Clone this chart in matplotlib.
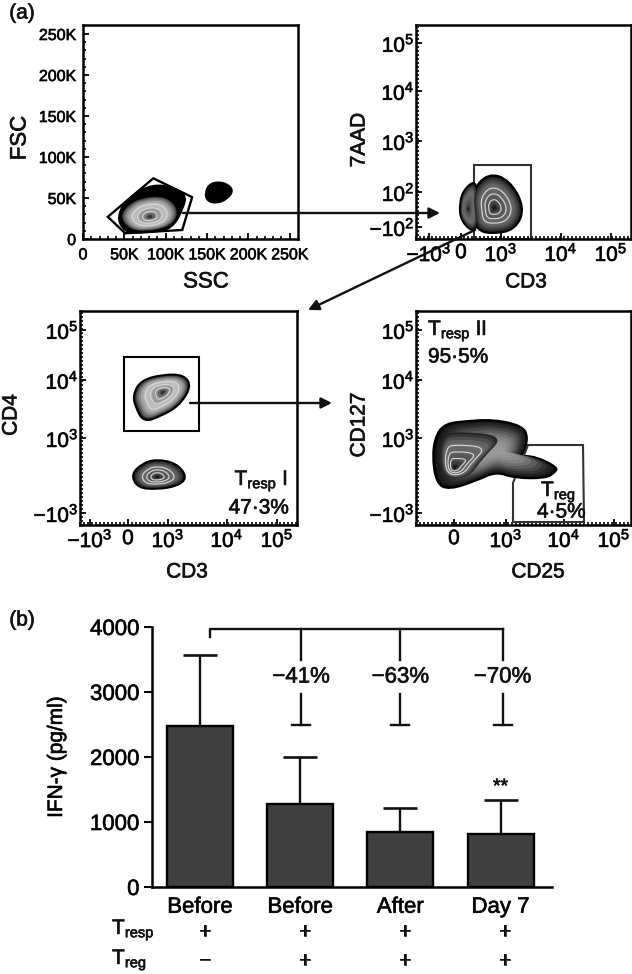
import numpy as np
from matplotlib import pyplot as plt
from matplotlib.patches import PathPatch, Polygon
from matplotlib.path import Path
from matplotlib.patheffects import withStroke
from matplotlib.text import Text
from matplotlib.ticker import FixedLocator

plt.rcParams['font.family'] = ['Liberation Sans', 'DejaVu Sans']
plt.rcParams['mathtext.fontset'] = 'custom'
plt.rcParams['mathtext.rm'] = 'Liberation Sans'
plt.rcParams['mathtext.default'] = 'regular'

W, H = 632, 974

# bar chart values
bar_values = [2480, 1280, 840, 810]
bar_errors = [1090, 720, 370, 530]
bar_labels = ['Before', 'Before', 'After', 'Day 7']
tresp_signs = ['+', '+', '+', '+']
treg_signs = ['\u2212', '+', '+', '+']
reductions = ['\u221241%', '\u221263%', '\u221270%']
bar_yticks = [0, 1000, 2000, 3000, 4000]

# FSC/SSC panel, in thousands
ssc_ticks = [0, 50, 100, 150, 200, 250]
ssc_labels = ['0', '50K', '100K', '150K', '200K', '250K']
fsc_labels = ['0', '50K', '100K', '150K', '200K', '250K']
gate_scatter_x = [30, 85, 132, 120, 51]
gate_scatter_y = [27, 74, 51, 11, 7]
lymph_outer_x = [44.7, 52, 72.9, 97, 120.4, 119, 109, 93, 60.8, 48.7]
lymph_outer_y = [27, 43.5, 59.8, 63.8, 53.7, 37.4, 19, 11, 9, 15]
lymph_inner_x = [46.7, 54.8, 72.9, 97, 111, 113, 101, 77, 57]
lymph_inner_y = [27, 41, 50, 51, 41, 27, 15, 10, 13]
lymph_centre = (81, 27)
spot_x = [149, 155, 169.5, 179.6, 173.5, 161.5, 151.4]
spot_y = [56.5, 66.7, 67.9, 59.8, 49.6, 44.7, 47.6]

# the biexponential panels are kept in display channels
aad_xticks = [13, 45, 85, 145, 195]
aad_xlabels = ['\u221210$^{3}$', '0', '10$^{3}$', '10$^{4}$', '10$^{5}$']
aad_yticks = [12, 47, 98, 148, 196]
aad_ylabels = ['\u221210$^{2}$', '10$^{2}$', '10$^{3}$', '10$^{4}$', '10$^{5}$']
aad_gate_x = [57.7, 115, 115, 57.7]
aad_gate_y = [74, 74, 0, 0]
live_x = [59, 73, 92, 105, 97, 77, 63, 59]
live_y = [47, 62, 56, 32, 12, 7, 11, 26]
live_centre = (78, 31)
dead_x = [60, 50, 45, 47, 60]
dead_y = [52, 49, 36, 19, 12]
dead_centre = (52, 30)

cd4_xticks = [10, 48, 88, 147, 197]
cd4_xlabels = ['\u221210$^{3}$', '0', '10$^{3}$', '10$^{4}$', '10$^{5}$']
cd4_yticks = [12, 87, 145, 195]
cd4_ylabels = ['\u221210$^{3}$', '10$^{3}$', '10$^{4}$', '10$^{5}$']
cd4_gate_x = [44, 119, 119, 44]
cd4_gate_y = [168, 168, 94, 94]
cd4pos_x = [55, 63, 83, 102, 108, 97, 80, 65, 57]
cd4pos_y = [130, 143, 149, 148, 137, 120, 110, 106, 118]
cd4pos_centre = (83, 133)
cd4neg_x = [54, 63, 77, 95, 104, 95, 77, 60]
cd4neg_y = [50, 60, 64, 60, 48, 40, 37, 39]
cd4neg_centre = (77, 48)

cd25_xticks = [38, 90, 148, 198]
cd25_xlabels = ['0', '10$^{3}$', '10$^{4}$', '10$^{5}$']
cd25_yticks = [12, 87, 145, 195]
cd25_ylabels = ['\u221210$^{3}$', '10$^{3}$', '10$^{4}$', '10$^{5}$']
cd25_gate_x = [112, 167, 168, 97, 97]
cd25_gate_y = [80, 80, 3, 3, 42]
cd25_outer_x = [18, 22, 32, 50, 77, 103, 110, 107, 105, 120, 138, 137, 127, 100, 80, 60, 35, 22]
cd25_outer_y = [70, 90, 100, 103, 104, 98, 87, 73, 69, 67, 58, 53, 48, 48, 52, 45, 38, 45]
cd25_body_centre = (82, 75)
cd25_core_x = [25, 28, 43, 82, 67, 53, 33]
cd25_core_y = [63, 87, 93, 88, 67, 50, 48]
cd25_centre = (38, 57)

# scale towards centre and gray level of each shading step
shade_scales = [0.97, 0.92, 0.85, 0.77, 0.68, 0.58, 0.48, 0.38, 0.28, 0.18, 0.09]
light_grays = [0.25, 0.4, 0.55, 0.66, 0.72, 0.74, 0.68, 0.6, 0.52, 0.4, 0.2]
dark_grays = [0.14, 0.22, 0.3, 0.38, 0.42, 0.4, 0.38, 0.34, 0.3, 0.24, 0.1]
body_grays = [0.1, 0.14, 0.2, 0.28, 0.36, 0.44, 0.5, 0.55, 0.58, 0.6, 0.6]
ring_scales = [0.62, 0.44, 0.26]


def px_axes(fig, left, top, width, height):
    return fig.add_axes([left / W, 1 - (top + height) / H, width / W, height / H])


def smooth_path(x, y):
    # control points pushed out so the curve runs through the read points
    q = np.column_stack([x, y])
    pts = q + (q - (np.roll(q, 1, axis=0) + np.roll(q, -1, axis=0)) / 2) / 3
    mids = (pts + np.roll(pts, -1, axis=0)) / 2
    verts = [mids[-1]]
    codes = [Path.MOVETO]
    for p, m in zip(pts, mids):
        verts += [p, m]
        codes += [Path.CURVE3, Path.CURVE3]
    return Path(np.array(verts), codes)


def density_blob(ax, x, y, centre, grays, lw=2.2, rings=True, outline=True):
    x, y = np.array(x, float), np.array(y, float)
    if outline:
        ax.add_patch(PathPatch(smooth_path(x, y), fc='0.08', ec='black', lw=lw, zorder=3))
    cx, cy = centre
    for s, g in zip(shade_scales, grays):
        path = smooth_path(cx + (x - cx) * s, cy + (y - cy) * s)
        ax.add_patch(PathPatch(path, fc=str(g), ec='none', zorder=4))
    if rings:
        for s in ring_scales:
            path = smooth_path(cx + (x - cx) * s, cy + (y - cy) * s)
            ax.add_patch(PathPatch(path, fc='none', ec='0.85', lw=0.8, zorder=5))


def flow_axes(fig, box, xlim, ylim, xticks, xlabels, yticks, ylabels, minor, padx, pady, size):
    ax = px_axes(fig, *box)
    ax.set_xlim(*xlim)
    ax.set_ylim(*ylim)
    ax.set_xticks(xticks, xlabels, fontsize=size)
    ax.set_yticks(yticks, ylabels, fontsize=size)
    ax.xaxis.set_minor_locator(FixedLocator(np.arange(xlim[0], xlim[1], minor)))
    ax.yaxis.set_minor_locator(FixedLocator(np.arange(ylim[0], ylim[1], minor)))
    ax.tick_params(which='major', direction='in', length=4, width=1.3, pad=padx, axis='x')
    ax.tick_params(which='major', direction='in', length=4, width=1.3, pad=pady, axis='y')
    ax.tick_params(which='minor', direction='in', length=2, width=1.2)
    for s in ax.spines.values():
        s.set_linewidth(1.8)
    return ax


def gate(ax, x, y, lw=1.5, color='0.2'):
    ax.add_patch(Polygon(np.column_stack([x, y]), closed=True, fill=False, ec=color, lw=lw, zorder=2))


def fig_text(fig, x, y, s, **kw):
    kw.setdefault('ha', 'center')
    kw.setdefault('va', 'center')
    kw.setdefault('fontsize', 15)
    fig.text(x / W, 1 - y / H, s, color='#111111', **kw)


fig = plt.figure(figsize=(W / 100, H / 100), dpi=100)

# panel a, top left
ax1 = flow_axes(fig, (83, 25, 215, 214), (0, 260), (0, 261), ssc_ticks, ssc_labels,
                ssc_ticks, fsc_labels, 10, 6, 5, 11.5)
gate(ax1, gate_scatter_x, gate_scatter_y, lw=1.7, color='black')
ax1.add_patch(PathPatch(smooth_path(lymph_outer_x, lymph_outer_y), fc='black', ec='black', lw=2.2, zorder=3))
density_blob(ax1, lymph_inner_x, lymph_inner_y, lymph_centre, light_grays, outline=False)
ax1.add_patch(PathPatch(smooth_path(spot_x, spot_y), fc='black', ec='black', lw=1.5, zorder=3))

# panel a, top right
ax2 = flow_axes(fig, (416, 25, 215, 214), (0, 215), (0, 214), aad_xticks, aad_xlabels,
                aad_yticks, aad_ylabels, 4, 3, 1, 15)
gate(ax2, aad_gate_x, aad_gate_y)
density_blob(ax2, dead_x, dead_y, dead_centre, dark_grays, rings=False)
density_blob(ax2, live_x, live_y, live_centre, dark_grays)

# panel a, bottom left
ax3 = flow_axes(fig, (80, 311, 217, 214), (0, 217), (0, 214), cd4_xticks, cd4_xlabels,
                cd4_yticks, cd4_ylabels, 4, 3, 1, 15)
gate(ax3, cd4_gate_x, cd4_gate_y, color='black')
density_blob(ax3, cd4pos_x, cd4pos_y, cd4pos_centre, light_grays)
density_blob(ax3, cd4neg_x, cd4neg_y, cd4neg_centre, dark_grays)

# panel a, bottom right
ax4 = flow_axes(fig, (416, 311, 215, 214), (0, 215), (0, 214), cd25_xticks, cd25_xlabels,
                cd25_yticks, cd25_ylabels, 4, 3, 1, 15)
gate(ax4, cd25_gate_x, cd25_gate_y)
density_blob(ax4, cd25_outer_x, cd25_outer_y, cd25_body_centre, body_grays, rings=False)
density_blob(ax4, cd25_core_x, cd25_core_y, cd25_centre, dark_grays, outline=False)

fig_text(fig, 22, 13, '(a)', fontsize=15)
fig_text(fig, 20, 138, 'FSC', fontsize=16, rotation=90)
fig_text(fig, 206, 282, 'SSC', fontsize=16)
fig_text(fig, 359, 140, '7AAD', fontsize=15, rotation=90)
fig_text(fig, 526, 282, 'CD3', fontsize=15)
fig_text(fig, 11, 415, 'CD4', fontsize=15, rotation=90)
fig_text(fig, 187, 572, 'CD3', fontsize=15)
fig_text(fig, 359, 425, 'CD127', fontsize=15, rotation=90)
fig_text(fig, 538, 572, 'CD25', fontsize=15)
fig_text(fig, 288, 481, 'T$_{resp}$ I', ha='right')
fig_text(fig, 289, 508, '47\u00b73%', ha='right')
fig_text(fig, 428, 331, 'T$_{resp}$ II', ha='left')
fig_text(fig, 428, 357, '95\u00b75%', ha='left')
fig_text(fig, 541, 492, 'T$_{reg}$', ha='left')
fig_text(fig, 537, 512, '4\u00b75%', ha='left')
fig_text(fig, 22, 620, '(b)', fontsize=15)

# panel b
ax = px_axes(fig, 152, 627, 400, 260)
xpos = np.arange(len(bar_values))
ax.bar(xpos, bar_values, width=0.66, color='#404040', edgecolor='black', linewidth=1.7, zorder=2)
ax.errorbar(xpos, bar_values, yerr=[np.zeros(4), bar_errors], fmt='none', ecolor='#111111',
            elinewidth=1.7, capsize=12, capthick=1.9, zorder=1)
ax.set_xlim(-0.479, 3.513)
ax.set_ylim(0, 4000)
ax.set_yticks(bar_yticks)
ax.set_xticks(xpos, bar_labels)
ax.tick_params(axis='y', direction='out', length=6, width=1.5, labelsize=16, pad=3)
ax.tick_params(axis='x', length=0, labelsize=16, pad=7)
for side in ['top', 'right']:
    ax.spines[side].set_visible(False)
for side in ['left', 'bottom']:
    ax.spines[side].set_linewidth(1.8)
ax.set_ylabel('IFN-\u03b3 (pg/ml)', fontsize=15)
ax.yaxis.set_label_coords(-0.215, 0.5)

# comparison bracket
bracket_x = [1.01, 2.0, 3.02]
ax.plot([0.1, 0.1, 3.02], [3840, 3970, 3970], color='#111111', lw=1.7, clip_on=False, zorder=3)
for xb, s in zip(bracket_x, reductions):
    ax.plot([xb, xb], [3970, 3500], color='#111111', lw=1.7, clip_on=False, zorder=3)
    ax.plot([xb, xb], [2970, 2500], color='#111111', lw=1.7, zorder=3)
    ax.plot([xb - 0.09, xb + 0.09], [2500, 2500], color='#111111', lw=1.7, zorder=3)
    ax.text(xb, 3230, s, ha='center', va='center', fontsize=16, color='#111111')
ax.text(3.0, 1530, '**', ha='center', va='center', fontsize=14, color='#111111')

fig_text(fig, 112, 930, 'T$_{resp}$', ha='left', fontsize=15)
fig_text(fig, 112, 960, 'T$_{reg}$', ha='left', fontsize=15)
for xb, a, b in zip(xpos, tresp_signs, treg_signs):
    xp = 205 + 100 * xb
    fig_text(fig, xp, 932, a, fontsize=15)
    fig_text(fig, xp, 961, b, fontsize=15)

# arrows between the plots, drawn over everything
over = fig.add_axes([0, 0, 1, 1])
over.set_xlim(0, W)
over.set_ylim(H, 0)
over.axis('off')
for start, end in [((183, 213), (440, 213)), ((475, 230), (308, 310)), ((190, 403), (332, 403))]:
    over.annotate('', xy=end, xytext=start,
                  arrowprops=dict(arrowstyle='-|>', color='#111111', lw=1.7, mutation_scale=16,
                                  shrinkA=0, shrinkB=0))

# the scan has heavier strokes than the plain font
for t in fig.findobj(Text):
    t.set_path_effects([withStroke(linewidth=0.5, foreground='#222222')])

fig.savefig('out.png', dpi=100)
